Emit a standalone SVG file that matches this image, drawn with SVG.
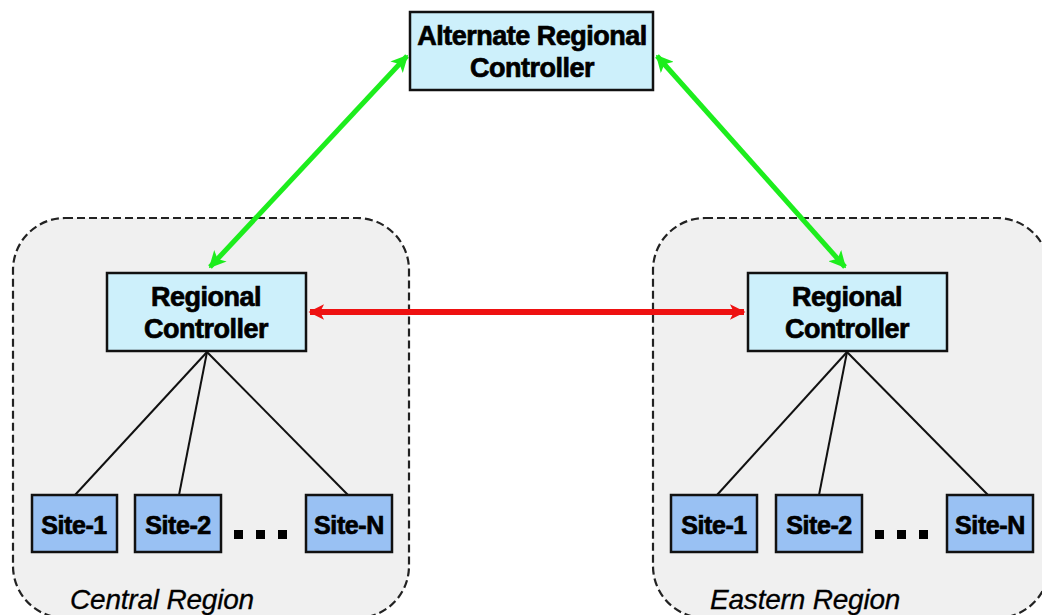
<svg xmlns="http://www.w3.org/2000/svg" width="1042" height="615" viewBox="0 0 1042 615">
  <style>
    .region { fill: #f0f0f0; stroke: #222; stroke-width: 2.2; stroke-dasharray: 8 4; }
    .ctrl { fill: #cdf0fb; stroke: #111; stroke-width: 2.5; }
    .site { fill: #99c1f3; stroke: #111; stroke-width: 2.5; }
    .lbl { font-family: "Liberation Sans", Arial, sans-serif; font-weight: bold; fill: #000; stroke: #000; stroke-width: 0.7; text-anchor: middle; }
    .big { font-size: 27px; letter-spacing: -0.5px; }
    .small { font-size: 25px; letter-spacing: -0.4px; }
    .rname { font-family: "Liberation Sans", Arial, sans-serif; font-style: italic; font-size: 28px; fill: #000; stroke: #000; stroke-width: 0.3; letter-spacing: -0.2px; }
    .tree { stroke: #111; stroke-width: 2; fill: none; }
    .green { stroke: #1ded1d; stroke-width: 5; fill: none; }
    .red { stroke: #ee1111; stroke-width: 6; fill: none; }
    .dot { fill: #000; }
  </style>
  <defs>
    <marker id="headG" viewBox="0 0 10 10" refX="9" refY="5" markerWidth="3.4" markerHeight="3.4" orient="auto-start-reverse" markerUnits="strokeWidth">
      <path d="M0,0 L10,5 L0,10 L2.5,5 Z" fill="#1ded1d"/>
    </marker>
    <marker id="headR" viewBox="0 0 10 10" refX="9" refY="5" markerWidth="3" markerHeight="2.6" orient="auto-start-reverse" markerUnits="strokeWidth">
      <path d="M0,0 L10,5 L0,10 L2.5,5 Z" fill="#ee1111"/>
    </marker>
  </defs>

  <rect width="1042" height="615" fill="#ffffff"/>

  <!-- region containers -->
  <g id="central-region">
    <rect class="region" x="13" y="218" width="396" height="400" rx="52"/>
    <text class="rname" x="70" y="609">Central Region</text>
  </g>
  <g id="eastern-region">
    <rect class="region" x="653" y="218" width="396" height="400" rx="52"/>
    <text class="rname" x="710" y="609">Eastern Region</text>
  </g>

  <!-- connectors -->
  <g id="connectors">
    <line class="green" x1="407" y1="56" x2="210" y2="267" marker-start="url(#headG)" marker-end="url(#headG)"/>
    <line class="green" x1="657" y1="56" x2="845" y2="267" marker-start="url(#headG)" marker-end="url(#headG)"/>
    <line class="red" x1="310" y1="312" x2="744" y2="312" marker-start="url(#headR)" marker-end="url(#headR)"/>
    <line class="tree" x1="207" y1="352" x2="75" y2="495"/>
    <line class="tree" x1="207" y1="352" x2="179" y2="495"/>
    <line class="tree" x1="207" y1="352" x2="348" y2="495"/>
    <line class="tree" x1="847" y1="352" x2="717" y2="495"/>
    <line class="tree" x1="847" y1="352" x2="819" y2="495"/>
    <line class="tree" x1="847" y1="352" x2="988" y2="495"/>
  </g>

  <!-- controllers -->
  <g id="alternate-controller">
    <rect class="ctrl" x="410" y="12" width="243" height="78"/>
    <text class="lbl big" x="532" y="45">Alternate Regional</text>
    <text class="lbl big" x="532" y="77">Controller</text>
  </g>
  <g id="central-controller">
    <rect class="ctrl" x="107" y="273" width="199" height="78"/>
    <text class="lbl big" x="206" y="306">Regional</text>
    <text class="lbl big" x="206" y="338">Controller</text>
  </g>
  <g id="eastern-controller">
    <rect class="ctrl" x="748" y="273" width="199" height="78"/>
    <text class="lbl big" x="847" y="306">Regional</text>
    <text class="lbl big" x="847" y="338">Controller</text>
  </g>

  <!-- central sites -->
  <g id="central-site-1">
    <rect class="site" x="32" y="495" width="85" height="57"/>
    <text class="lbl small" x="74" y="534">Site-1</text>
  </g>
  <g id="central-site-2">
    <rect class="site" x="135" y="495" width="86" height="57"/>
    <text class="lbl small" x="178" y="534">Site-2</text>
  </g>
  <g id="central-site-n">
    <rect class="site" x="306" y="495" width="86" height="57"/>
    <text class="lbl small" x="349" y="534">Site-N</text>
  </g>
  <g id="central-ellipsis">
    <rect class="dot" x="234" y="530" width="9" height="9"/>
    <rect class="dot" x="256" y="530" width="9" height="9"/>
    <rect class="dot" x="278" y="530" width="9" height="9"/>
  </g>

  <!-- eastern sites -->
  <g id="eastern-site-1">
    <rect class="site" x="671" y="495" width="86" height="57"/>
    <text class="lbl small" x="714" y="534">Site-1</text>
  </g>
  <g id="eastern-site-2">
    <rect class="site" x="776" y="495" width="86" height="57"/>
    <text class="lbl small" x="819" y="534">Site-2</text>
  </g>
  <g id="eastern-site-n">
    <rect class="site" x="947" y="495" width="86" height="57"/>
    <text class="lbl small" x="990" y="534">Site-N</text>
  </g>
  <g id="eastern-ellipsis">
    <rect class="dot" x="875" y="530" width="9" height="9"/>
    <rect class="dot" x="897" y="530" width="9" height="9"/>
    <rect class="dot" x="919" y="530" width="9" height="9"/>
  </g>
</svg>
